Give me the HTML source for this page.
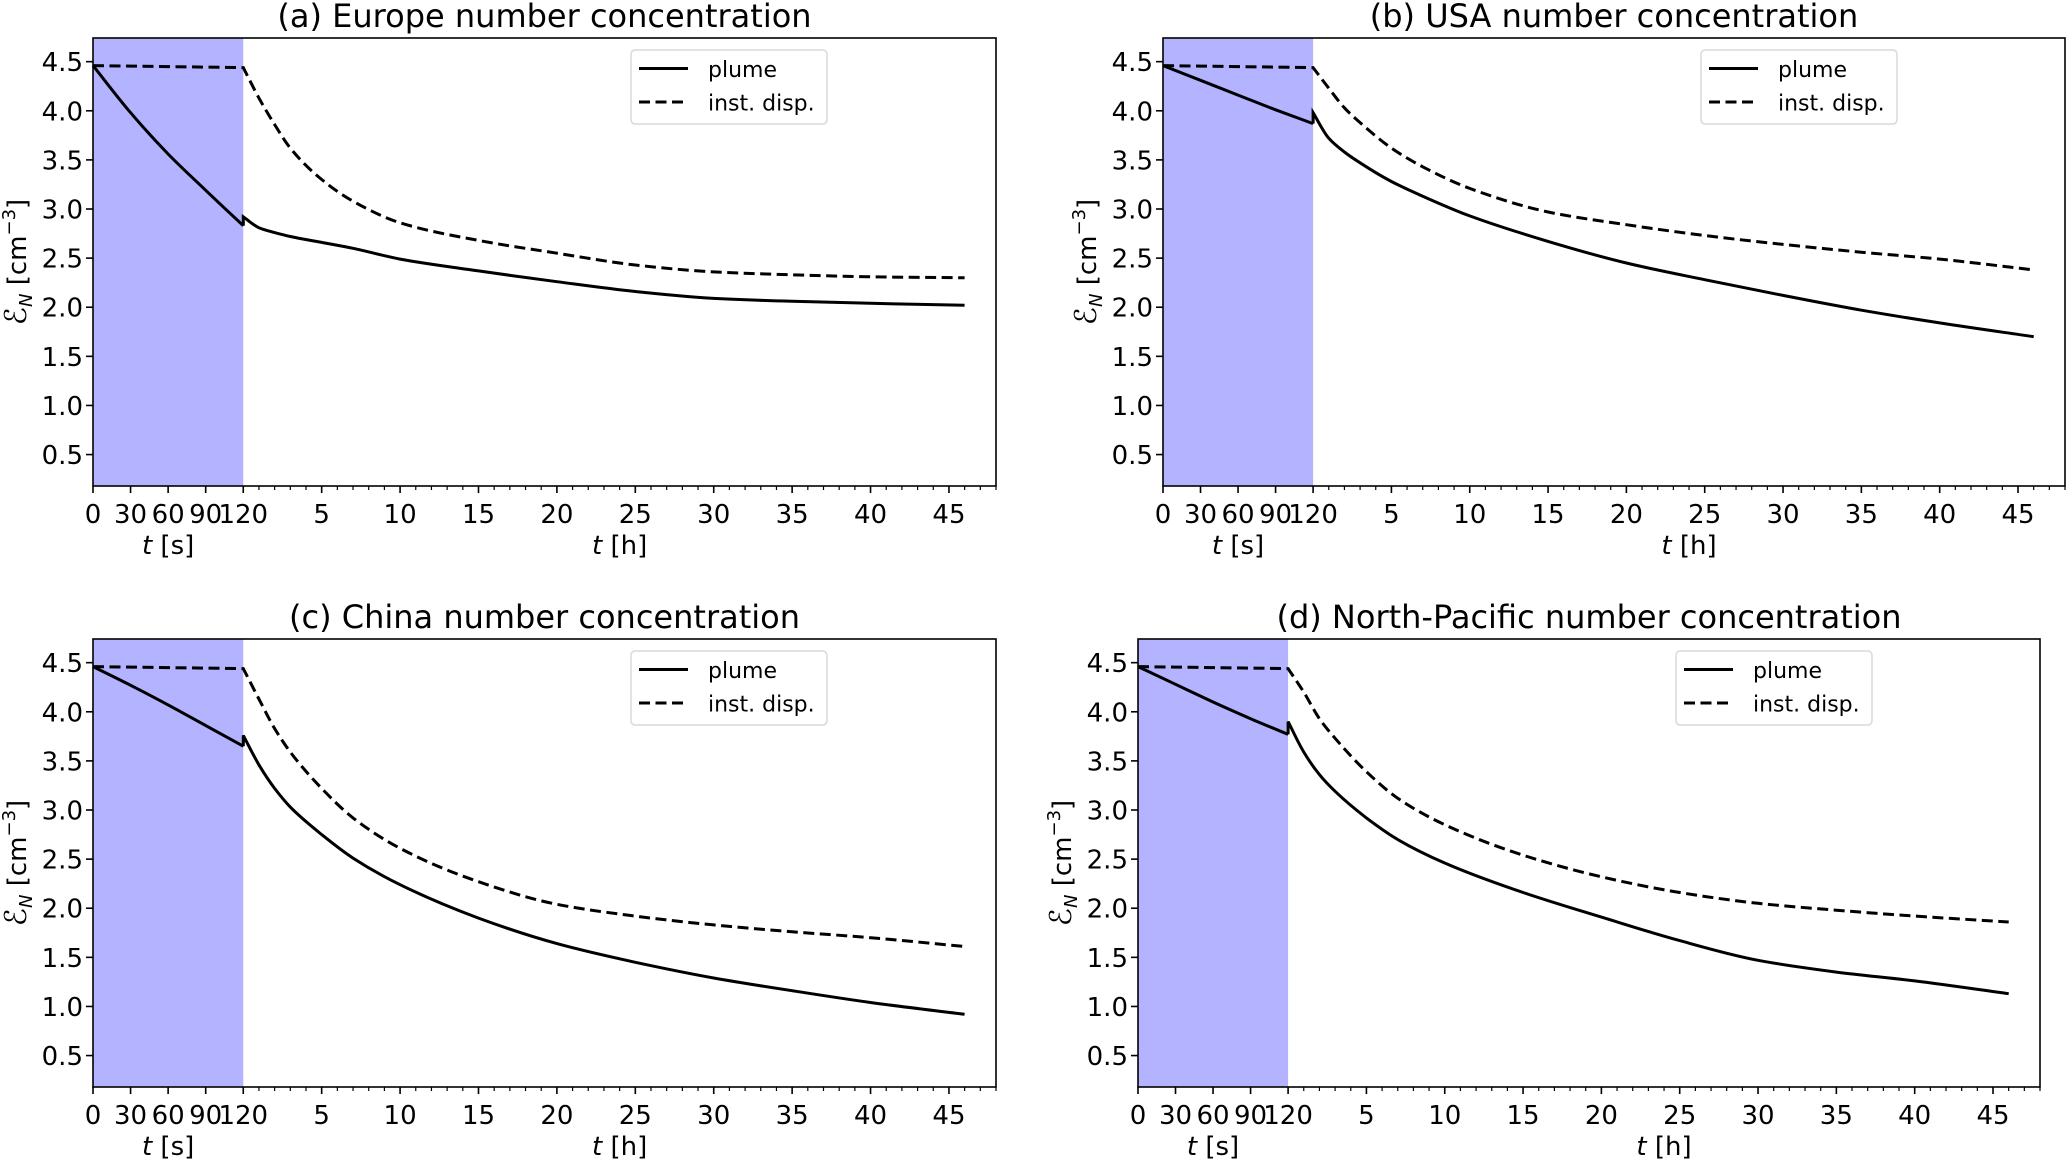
<!DOCTYPE html>
<html><head><meta charset="utf-8">
<style>
html,body{margin:0;padding:0;background:#fff;}
svg{display:block;font-family:"DejaVu Sans","Liberation Sans",sans-serif;}
</style></head>
<body>
<svg id="fig" width="2067" height="1160" viewBox="0 0 2067 1160" xmlns="http://www.w3.org/2000/svg"></svg>
<script>
// ---- data ----
const secTimes = [0, 30, 60, 90, 120];
const hourTimes = [0, 1, 2, 3, 5, 7, 10, 15, 20, 25, 30, 35, 40, 46];
const yTicks = [0.5, 1.0, 1.5, 2.0, 2.5, 3.0, 3.5, 4.0, 4.5];
const secTickLabels = ["0", "30", "60", "90", "120"];
const hourTickLabels = ["5", "10", "15", "20", "25", "30", "35", "40", "45"];
const titles = ["(a) Europe number concentration", "(b) USA number concentration", "(c) China number concentration", "(d) North-Pacific number concentration"];

const europePlumeSec = [4.46, 3.98, 3.56, 3.19, 2.83];
const europePlumeHour = [2.92, 2.81, 2.76, 2.72, 2.66, 2.60, 2.49, 2.37, 2.26, 2.16, 2.09, 2.06, 2.04, 2.02];
const europeDispSec = [4.46, 4.455, 4.45, 4.445, 4.44];
const europeDispHour = [4.44, 4.13, 3.86, 3.62, 3.30, 3.08, 2.86, 2.68, 2.55, 2.43, 2.36, 2.33, 2.31, 2.30];

const usaPlumeSec = [4.46, 4.31, 4.16, 4.01, 3.87];
const usaPlumeHour = [3.98, 3.72, 3.58, 3.47, 3.28, 3.13, 2.93, 2.67, 2.45, 2.28, 2.12, 1.97, 1.84, 1.70];
const usaDispSec = [4.46, 4.455, 4.45, 4.445, 4.44];
const usaDispHour = [4.44, 4.23, 4.03, 3.88, 3.62, 3.43, 3.21, 2.97, 2.84, 2.73, 2.64, 2.56, 2.49, 2.38];

const chinaPlumeSec = [4.46, 4.27, 4.07, 3.86, 3.65];
const chinaPlumeHour = [3.76, 3.46, 3.22, 3.03, 2.75, 2.51, 2.24, 1.90, 1.64, 1.45, 1.29, 1.16, 1.04, 0.92];
const chinaDispSec = [4.46, 4.455, 4.45, 4.445, 4.44];
const chinaDispHour = [4.44, 4.13, 3.83, 3.59, 3.22, 2.92, 2.61, 2.27, 2.04, 1.92, 1.83, 1.76, 1.70, 1.61];

const pacificPlumeSec = [4.46, 4.28, 4.10, 3.93, 3.77];
const pacificPlumeHour = [3.90, 3.59, 3.36, 3.19, 2.92, 2.70, 2.46, 2.16, 1.91, 1.67, 1.47, 1.35, 1.26, 1.13];
const pacificDispSec = [4.46, 4.455, 4.45, 4.445, 4.44];
const pacificDispHour = [4.44, 4.20, 3.93, 3.73, 3.39, 3.12, 2.85, 2.54, 2.32, 2.16, 2.05, 1.98, 1.92, 1.86];

const panelPlumeSec = [europePlumeSec, usaPlumeSec, chinaPlumeSec, pacificPlumeSec];
const panelPlumeHour = [europePlumeHour, usaPlumeHour, chinaPlumeHour, pacificPlumeHour];
const panelDispSec = [europeDispSec, usaDispSec, chinaDispSec, pacificDispSec];
const panelDispHour = [europeDispHour, usaDispHour, chinaDispHour, pacificDispHour];
const panelNames = ["europe", "usa", "china", "north-pacific"];

// ---- layout ----
const NS = "http://www.w3.org/2000/svg";
const svg = document.getElementById("fig");
const boxes = [
  {l: 93, t: 38, w: 903, h: 448},
  {l: 1163, t: 38, w: 902, h: 448},
  {l: 93, t: 639, w: 903, h: 448},
  {l: 1138, t: 639, w: 902, h: 448}
];
const YMIN = 0.18, YMAX = 4.741, HMAX = 48, SFRAC = 0.1664;

function mk(tag, attrs, parent) {
  const e = document.createElementNS(NS, tag);
  for (const k in attrs) e.setAttribute(k, attrs[k]);
  (parent || svg).appendChild(e);
  return e;
}
function monoPath(pts) {
  const n = pts.length;
  if (n < 3) return "M" + pts.map(p => p[0].toFixed(1) + "," + p[1].toFixed(1)).join(" L");
  const dx = [], s = [];
  for (let i = 0; i < n - 1; i++) { dx.push(pts[i + 1][0] - pts[i][0]); s.push((pts[i + 1][1] - pts[i][1]) / dx[i]); }
  const m = [s[0]];
  for (let i = 1; i < n - 1; i++) {
    if (s[i - 1] * s[i] <= 0) m.push(0);
    else { const w1 = 2 * dx[i] + dx[i - 1], w2 = dx[i] + 2 * dx[i - 1]; m.push((w1 + w2) / (w1 / s[i - 1] + w2 / s[i])); }
  }
  m.push(s[n - 2]);
  let d = "M" + pts[0][0].toFixed(1) + "," + pts[0][1].toFixed(1);
  for (let i = 0; i < n - 1; i++) {
    const h = dx[i];
    d += " C" + (pts[i][0] + h / 3).toFixed(1) + "," + (pts[i][1] + m[i] * h / 3).toFixed(1) + " " +
      (pts[i + 1][0] - h / 3).toFixed(1) + "," + (pts[i + 1][1] - m[i + 1] * h / 3).toFixed(1) + " " +
      pts[i + 1][0].toFixed(1) + "," + pts[i + 1][1].toFixed(1);
  }
  return d;
}

boxes.forEach((b, i) => {
  const g = mk("g", {});
  
  
  const wS = b.w * SFRAC;
  const xS = s => b.l + s / 120 * wS;
  const xH = h => b.l + wS + h / HMAX * (b.w - wS);
  const y = v => b.t + (YMAX - v) / (YMAX - YMIN) * b.h;

  const shade = mk("rect", {x: b.l, y: b.t, width: wS, height: b.h, fill: "#b3b3ff"}, g);
  
  

  yTicks.forEach(v => {
    const yy = y(v);
    const tk = mk("line", {x1: b.l - 7, x2: b.l, y1: yy, y2: yy, stroke: "#000", "stroke-width": 1.6}, g);
    
    
    const tl = mk("text", {x: b.l - 10, y: yy + 9.5, "text-anchor": "end", "font-size": 26}, g);
    
    
    tl.textContent = v.toFixed(1);
  });
  secTimes.forEach((s, k) => {
    const xx = xS(s);
    const tk = mk("line", {x1: xx, x2: xx, y1: b.t + b.h, y2: b.t + b.h + 7, stroke: "#000", "stroke-width": 1.6}, g);
    
    
    const tl = mk("text", {x: xx, y: b.t + b.h + 37, "text-anchor": "middle", "font-size": 26}, g);
    
    
    tl.textContent = secTickLabels[k];
  });
  for (let h = 1; h <= HMAX; h++) {
    const xx = xH(h);
    const major = h % 5 === 0;
    const tk = mk("line", {x1: xx, x2: xx, y1: b.t + b.h, y2: b.t + b.h + (major ? 7 : 4), stroke: "#000", "stroke-width": major ? 1.6 : 1.2}, g);
    
    
  }
  hourTickLabels.forEach(lbl => {
    const tl = mk("text", {x: xH(+lbl), y: b.t + b.h + 37, "text-anchor": "middle", "font-size": 26}, g);
    
    
    tl.textContent = lbl;
  });
  const ls = mk("text", {x: b.l + wS / 2, y: b.t + b.h + 68, "text-anchor": "middle", "font-size": 26}, g);
  
  
  ls.innerHTML = '<tspan font-style="italic">t</tspan> [s]';
  const lh = mk("text", {x: xH(24), y: b.t + b.h + 68, "text-anchor": "middle", "font-size": 26}, g);
  
  
  lh.innerHTML = '<tspan font-style="italic">t</tspan> [h]';
  const yl = mk("text", {x: 0, y: 0, "text-anchor": "middle", "font-size": 26, transform: "translate(" + (b.l - 67) + "," + (b.t + b.h / 2) + ") rotate(-90)"}, g);
  
  
  yl.innerHTML = '<tspan font-style="italic" font-size="30">ℰ</tspan><tspan font-style="italic" font-size="18" dy="6">N</tspan><tspan dy="-6"> [cm</tspan><tspan font-size="18" dy="-11">−3</tspan><tspan dy="11">]</tspan>';
  const tt = mk("text", {x: b.l + b.w / 2, y: b.t - 11, "text-anchor": "middle", "font-size": 32}, g);
  
  
  tt.textContent = titles[i];

  const dsPts = panelDispSec[i].map((v, k) => [xS(secTimes[k]), y(v)]);
  const dhPts = panelDispHour[i].map((v, k) => [xH(hourTimes[k]), y(v)]);
  const dp = mk("path", {d: "M" + dsPts.map(p => p[0].toFixed(1) + "," + p[1].toFixed(1)).join(" L") + " " + monoPath(dhPts).replace(/^M/, "L"), fill: "none", stroke: "#000", "stroke-width": 3, "stroke-dasharray": "11,5.5"}, g);
  
  
  const ps = mk("path", {d: monoPath(panelPlumeSec[i].map((v, k) => [xS(secTimes[k]), y(v)])), fill: "none", stroke: "#000", "stroke-width": 3}, g);
  
  
  const ph = mk("path", {d: "M" + xS(120).toFixed(1) + "," + y(panelPlumeSec[i][4]).toFixed(1) + " " + monoPath(panelPlumeHour[i].map((v, k) => [xH(hourTimes[k]), y(v)])).replace(/^M/, "L"), fill: "none", stroke: "#000", "stroke-width": 3, "stroke-linejoin": "miter"}, g);
  
  

  const fr = mk("rect", {x: b.l, y: b.t, width: b.w, height: b.h, fill: "none", stroke: "#000", "stroke-width": 1.6}, g);
  
  

  const lg = mk("g", {}, g);
  
  
  const lx = b.l + 538, ly = b.t + 12;
  mk("rect", {x: lx, y: ly, width: 196, height: 74, rx: 4, fill: "#fff", "fill-opacity": 0.8, stroke: "#d9d9d9", "stroke-width": 1.5}, lg);
  const l1 = mk("line", {x1: lx + 8, x2: lx + 57, y1: ly + 18.5, y2: ly + 18.5, stroke: "#000", "stroke-width": 3}, lg);
  
  
  const t1 = mk("text", {x: lx + 77, y: ly + 27, "font-size": 22}, lg);
  
  
  t1.textContent = "plume";
  const l2 = mk("line", {x1: lx + 8, x2: lx + 57, y1: ly + 52, y2: ly + 52, stroke: "#000", "stroke-width": 3, "stroke-dasharray": "11,5.5"}, lg);
  
  
  const t2 = mk("text", {x: lx + 77, y: ly + 60.5, "font-size": 22}, lg);
  
  
  t2.textContent = "inst. disp.";
});
</script>
</body></html>
